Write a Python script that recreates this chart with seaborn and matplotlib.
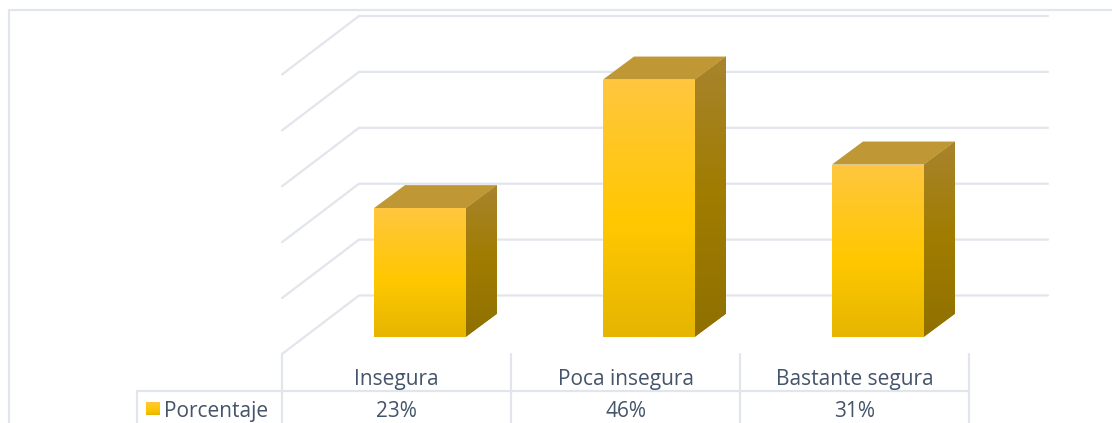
import matplotlib
matplotlib.use('Agg')
import matplotlib.pyplot as plt
import numpy as np
import pandas as pd
import seaborn as sns
from matplotlib.colors import LinearSegmentedColormap
from matplotlib.patches import Polygon, Rectangle

categories = ['Insegura', 'Poca insegura', 'Bastante segura']
values = [23, 46, 30.8]
value_labels = ['23%', '46%', '31%']
series_name = 'Porcentaje'
grid_values = [0, 10, 20, 30, 40, 50]

W, H = 1112, 423
PX_PER_UNIT = 5.59
PX_PER_CAT = 229
GRID_COLOR = '#E2E5EC'
TEXT_COLOR = '#44546A'
FONT_SIZE = 15

front_cmap = LinearSegmentedColormap.from_list(
    'front', [(0, '#FFC640'), (0.55, '#FFC800'), (1, '#E5B500')])
side_cmap = LinearSegmentedColormap.from_list(
    'side', [(0, '#A8842E'), (0.5, '#A07C00'), (1, '#8F7000')])


def x_of(px):
    return (px - 420) / PX_PER_CAT


def y_of(py):
    return (336.7 - py) / PX_PER_UNIT


def gradient(ax, cmap, box, clip):
    ramp = np.linspace(0, 1, 256).reshape(-1, 1)
    im = ax.imshow(ramp, cmap=cmap, extent=box, aspect='auto', origin='upper',
                   interpolation='bilinear', zorder=3)
    im.set_clip_path(clip)


sns.set_theme(style='white')
plt.rcParams['font.family'] = ['Open Sans', 'DejaVu Sans']

fig = plt.figure(figsize=(W / 100, H / 100), dpi=100)
ax = fig.add_axes([0, 0, 1, 1])
data = pd.DataFrame({'cat': categories, 'val': values})
sns.barplot(data=data, x='cat', y='val', color='#FFC800', width=92 / PX_PER_CAT,
            linewidth=0, ax=ax, zorder=2)

# side and top of each bar, offset back from the front face
dx = 31 / PX_PER_CAT
dy = 23 / PX_PER_UNIT
for bar in list(ax.patches):
    x0, x1 = bar.get_x(), bar.get_x() + bar.get_width()
    top = bar.get_height()
    side = Polygon([(x1, 0), (x1 + dx, dy), (x1 + dx, top + dy), (x1, top)],
                   closed=True, fc='#A07C00', ec='none', zorder=2)
    ax.add_patch(side)
    gradient(ax, side_cmap, (x1, x1 + dx, 0, top + dy), side)
    ax.add_patch(Polygon([(x0, top), (x0 + dx, top + dy), (x1 + dx, top + dy), (x1, top)],
                         closed=True, fc='#C09735', ec='none', zorder=3))
    gradient(ax, front_cmap, (x0, x1, 0, top), bar)

# back wall and side wall gridlines
for v in grid_values:
    y_back = v + y_of(337 - 41.5)
    y_front = y_back - 58.5 / PX_PER_UNIT
    ax.plot([x_of(1048), x_of(359), x_of(282)], [y_back, y_back, y_front],
            color=GRID_COLOR, lw=1.6, zorder=1, solid_joinstyle='miter')

# data table under the chart
for px in [282, 511, 740, 969]:
    ax.plot([x_of(px)] * 2, [y_of(354), y_of(H)], color=GRID_COLOR, lw=1.6, zorder=1)
ax.plot([x_of(136.5)] * 2, [y_of(390.5), y_of(H)], color=GRID_COLOR, lw=1.6, zorder=1)
ax.plot([x_of(136.5), x_of(969)], [y_of(390.5)] * 2, color=GRID_COLOR, lw=1.6, zorder=1)

# outer chart frame
ax.plot([x_of(8.5), x_of(8.5), x_of(W)], [y_of(H), y_of(10), y_of(10)],
        color=GRID_COLOR, lw=1.6, zorder=1)

for i, (cat, lab) in enumerate(zip(categories, value_labels)):
    cx = x_of(396.5 + PX_PER_CAT * i)
    ax.text(cx, y_of(379), cat, ha='center', va='center', fontsize=FONT_SIZE, color=TEXT_COLOR)
    ax.text(cx, y_of(411.5), lab, ha='center', va='center', fontsize=FONT_SIZE, color=TEXT_COLOR)

ax.text(x_of(164), y_of(411), series_name, ha='left', va='center', fontsize=FONT_SIZE, color=TEXT_COLOR)
key = Rectangle((x_of(145.5), y_of(415)), 13.5 / PX_PER_CAT, 13 / PX_PER_UNIT, fc='#FFC800', ec='none')
ax.add_patch(key)
gradient(ax, front_cmap, (x_of(145.5), x_of(159), y_of(415), y_of(402)), key)

ax.set_xlim(x_of(0), x_of(W))
ax.set_ylim(y_of(H), y_of(0))
ax.axis('off')

fig.savefig('out.png', dpi=100)
